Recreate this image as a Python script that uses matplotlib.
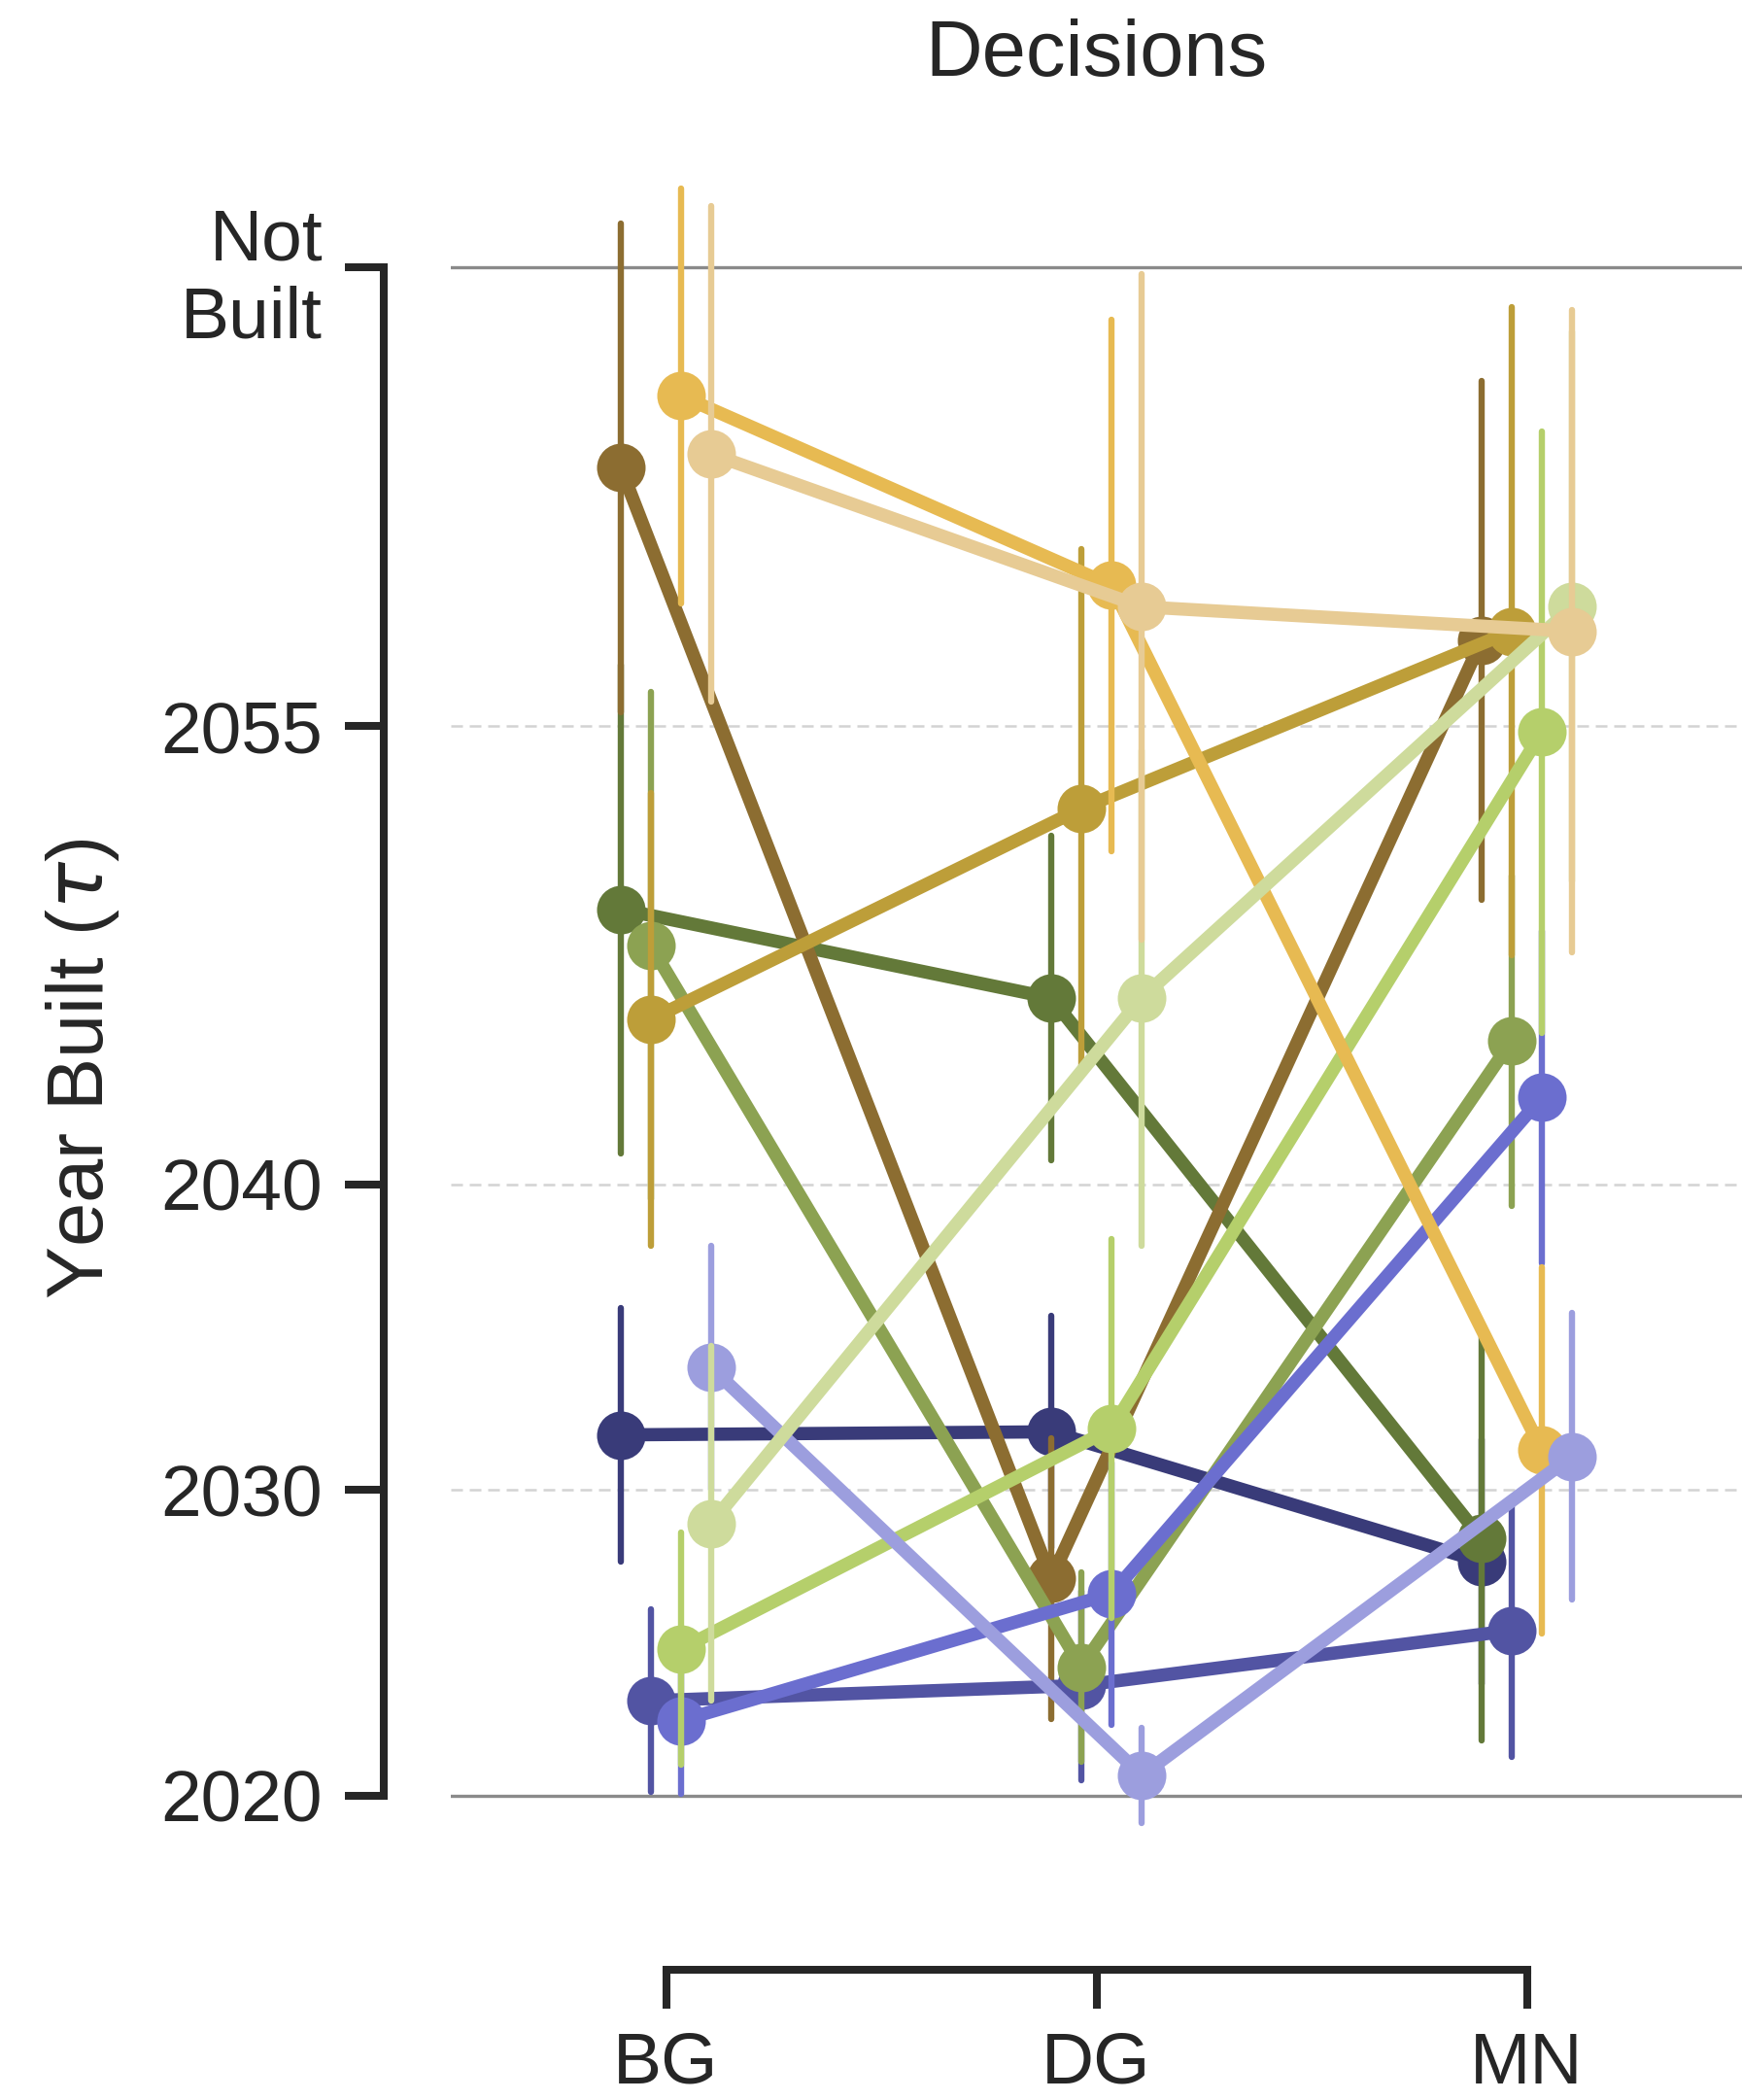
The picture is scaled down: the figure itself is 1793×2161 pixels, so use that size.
import matplotlib
matplotlib.use('Agg')
import matplotlib.pyplot as plt
import numpy as np

plt.rcParams['font.family'] = ['Liberation Sans', 'DejaVu Sans']
plt.rcParams['mathtext.fontset'] = 'dejavusans'

INK = '#262626'

# decisions on the x axis
categories = ['BG', 'DG', 'MN']

# mean year built per run, one entry per decision (BG, DG, MN)
means = [
    [2031.8, 2031.9, 2027.65],   # navy
    [2023.1, 2023.6, 2025.4],    # indigo
    [2022.45, 2026.6, 2042.85],  # blue
    [2034.0, 2020.66, 2031.1],   # lavender
    [2049.0, 2046.1, 2028.4],    # dark olive
    [2047.8, 2024.2, 2044.7],    # olive
    [2024.8, 2032.0, 2054.8],    # lime
    [2028.9, 2046.1, 2058.9],    # pale lime
    [2063.45, 2027.1, 2057.8],   # dark brown
    [2045.4, 2052.3, 2058.1],    # mustard
    [2065.8, 2059.6, 2031.3],    # gold
    [2063.9, 2058.9, 2058.1],    # sand
]
# half width of the confidence interval
ci = [
    [4.15, 3.8, 4.0],
    [3.0, 3.1, 4.15],
    [2.4, 4.3, 5.45],
    [4.0, 1.55, 4.7],
    [8.0, 5.3, 6.6],
    [8.3, 3.1, 5.4],
    [3.8, 6.2, 9.85],
    [5.8, 8.1, 9.0],
    [8.0, 4.6, 8.5],
    [7.4, 8.5, 10.6],
    [6.8, 8.7, 6.0],
    [8.1, 10.9, 10.5],
]

ytick_vals = [2020, 2030, 2040, 2055, 2070]
ytick_labels = ['2020', '2030', '2040', '2055', 'Not\nBuilt']

colors = plt.get_cmap('tab20b').colors[:12]
dodge = [-0.105, -0.035, 0.035, 0.105]

fig = plt.figure(figsize=(17.93, 21.61), dpi=100)
ax = fig.add_axes([0.2588, 0.0941, 0.7412, 0.8294])

# reference lines
for y in (2020, 2070):
    ax.axhline(y, color='#8a8a8a', lw=2.4, zorder=0)
for y in (2030, 2040, 2055):
    ax.axhline(y, color='#d3d3d3', lw=1.8, ls=(0, (4.8, 2.8)), zorder=0)

x = np.arange(len(categories))
z = 2
for pos in range(4):
    for fam in range(3):
        i = fam * 4 + pos
        xs = x + dodge[pos]
        m = np.array(means[i])
        e = np.array(ci[i])
        ax.plot(xs, m, color=colors[i], lw=9.8, marker='o', ms=36, mew=0,
                solid_capstyle='round', solid_joinstyle='round', zorder=z)
        ax.vlines(xs, m - e, m + e, color=colors[i], lw=4.6,
                  capstyle='round', zorder=z + 0.5)
        z += 1

ax.set_xlim(-0.5, 2.5)
ax.set_ylim(2016.5, 2073.5)
ax.set_xticks(x)
ax.set_xticklabels(categories)
ax.set_yticks(ytick_vals)
ax.set_yticklabels(ytick_labels)

for side in ('top', 'right'):
    ax.spines[side].set_visible(False)
for side in ('left', 'bottom'):
    ax.spines[side].set_position(('outward', 50))
    ax.spines[side].set_linewidth(5.8)
    ax.spines[side].set_color(INK)
ax.spines['left'].set_bounds(2020, 2070)
ax.spines['bottom'].set_bounds(0, 2)

ax.tick_params(length=29, width=5.8, color=INK, labelsize=54, labelcolor=INK)
ax.tick_params(axis='y', pad=16)
ax.tick_params(axis='x', pad=16)

ax.set_title('Decisions', fontsize=58.5, color=INK, pad=63)
ax.set_ylabel(r'Year Built ($\tau$)', fontsize=58.5, color=INK)
ax.yaxis.set_label_coords(125 / 1793, 1 - 1100 / 2161, transform=fig.transFigure)

fig.savefig('out.png', dpi=100)
